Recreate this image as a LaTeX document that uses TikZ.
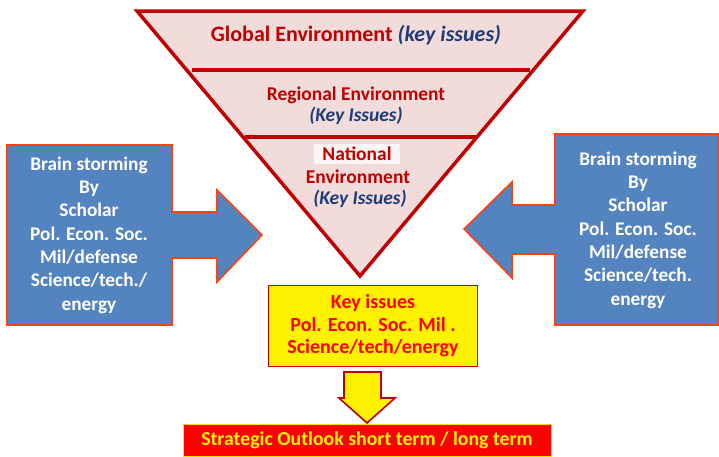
\documentclass[tikz,border=0pt]{standalone}
\usepackage{fontspec}
\setmainfont{Carlito}
\usepackage{tikz}
\usetikzlibrary{positioning}

\definecolor{darkred}{HTML}{C00000}
\definecolor{pinkfill}{HTML}{F2DCDB}
\definecolor{navytext}{HTML}{1F3C78}
\definecolor{blockblue}{HTML}{5484BF}
\definecolor{orangeline}{HTML}{FF4010}

\begin{document}
\begin{tikzpicture}[
                x=1pt, y=-1pt,
                level/.style={text=darkred, font=\bfseries\fontsize{19.5}{21}\selectfont, align=center, inner sep=1pt},
                keyi/.style={text=navytext, font=\bfseries\itshape\fontsize{19.5}{21}\selectfont, inner sep=1pt},
                blockarrow/.style={fill=blockblue, draw=orangeline, line width=1.6pt, line join=miter},
                brain/.style={text=white, align=center, font=\bfseries\fontsize{19.3}{23.3}\selectfont},
                yellowarrow/.style={fill=yellow, draw=darkred, line width=1.6pt}]

            \useasboundingbox (0,0) rectangle (719,456);

            % Pyramide
            \draw[fill=pinkfill, draw=darkred, line width=3.5pt, line join=miter] (137,11) -- (583,11) -- (360,276) -- cycle;
            \draw[darkred, line width=3.5pt] (192,70) -- (530,70);
            \draw[darkred, line width=3.5pt] (245,137) -- (477,137);

            \node[level, font=\bfseries\fontsize{22}{24}\selectfont] (global) at (356,35)
                {Global Environment \textcolor{navytext}{\itshape (key issues)}};
            \node[level] (regional) at (356,95) {Regional Environment};
            \node[keyi] (regkey) at (356,116) {(Key Issues)};
            \node[level, fill=white!70!pinkfill, minimum width=86pt, minimum height=20pt] (national) at (357,154) {National};
            \node[level] (natenv) at (358,177) {Environment};
            \node[keyi] (natkey) at (360,199) {(Key Issues)};

            % Fleches laterales
            \draw[blockarrow] (7,145) -- (172,145) -- (172,212) -- (217,212) -- (217,190) -- (262,235)
                -- (217,282) -- (217,258) -- (172,258) -- (172,325) -- (7,325) -- cycle;
            \node[brain] (brainl) at (89,235) {Brain storming\\By\\Scholar\\Pol. Econ. Soc.\\Mil/defense\\Science/tech./\\energy};

            \draw[blockarrow] (718,134) -- (555,134) -- (555,205) -- (512,205) -- (512,182) -- (464,229)
                -- (512,278) -- (512,254) -- (555,254) -- (555,325) -- (718,325) -- cycle;
            \node[brain] (brainr) at (638,230) {Brain storming\\By\\Scholar\\Pol. Econ. Soc.\\Mil/defense\\Science/tech.\\energy};

            % Resultat
            \node[fill=yellow, draw=darkred, line width=1.6pt, minimum width=209pt, minimum height=81pt,
                text=red, align=center, font=\bfseries\fontsize{20}{22.5}\selectfont] (keyissues) at (373,326)
                {Key issues\\Pol. Econ. Soc. Mil .\\Science/tech/energy};

            \node[fill=red, draw=yellow!80!orange, line width=0.8pt, minimum width=368pt, minimum height=32pt,
                text=yellow, font=\bfseries\fontsize{19.8}{22}\selectfont] (outlook) at (367,440)
                {Strategic Outlook short term / long term};

            \draw[yellowarrow] (344,372) -- (381,372) -- (381,398) -- (395,398) -- (367,423)
                -- (339,398) -- (344,398) -- cycle;

        \end{tikzpicture}
\end{document}
